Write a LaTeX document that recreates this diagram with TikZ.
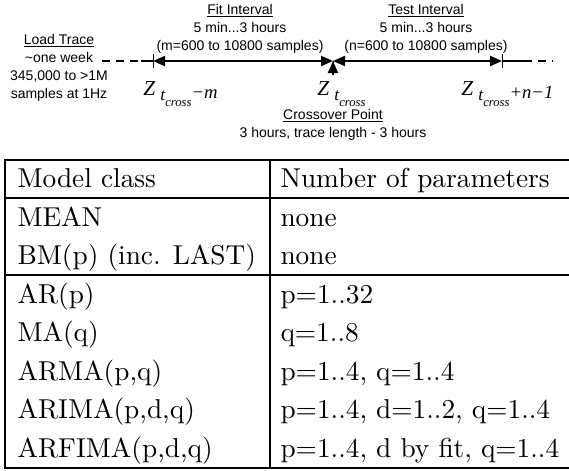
\documentclass[tikz,border=0pt]{standalone}
\usepackage{fontspec}
\usetikzlibrary{arrows.meta}
\newfontfamily\labelfont{Liberation Sans}
\newfontfamily\zfont{Liberation Serif}
% Z with t_cross subscript, #1 is the offset
\newcommand{\zterm}[1]{{\zfont\itshape{\fontsize{16}{17}\selectfont Z}\kern4pt\raisebox{-4pt}{\fontsize{13}{14}\selectfont t}\raisebox{-9pt}{\fontsize{9.5}{10}\selectfont cross}\raisebox{-2.5pt}{\fontsize{14}{15}\selectfont #1}}}
\tikzset{
  label text/.style={font=\labelfont\fontsize{10.5}{13.5}\selectfont,align=center,inner sep=0pt},
  interval/.style={line width=1.5pt,{Triangle[length=9pt,width=7.5pt]}-{Triangle[length=9pt,width=7.5pt]}},
  trace dash/.style={line width=1.5pt,dash pattern=on 6pt off 4.5pt},
  tickmark/.style={line width=0.6pt},
  rule/.style={line width=1.5pt},
  cell/.style={anchor=base west,inner sep=0pt,scale=2.05}
}
\begin{document}
\begin{tikzpicture}[x=0.75pt,y=-0.75pt]
\useasboundingbox (0,0) rectangle (569,471);
% time line
\coordinate (traceL) at (102,61);
\coordinate (dashL) at (141,61);
\coordinate (fitstart) at (153,61);
\coordinate (cross) at (333,61);
\coordinate (crossfoot) at (333,75);
\coordinate (testend) at (502,61);
\coordinate (dashR) at (524,61);
\coordinate (traceR) at (553,61);
\draw[trace dash] (traceL) -- (dashL);
\draw[line width=1.5pt] (dashL) -- (fitstart);
\draw[interval] (fitstart) -- (cross);
\draw[interval] (cross) -- (testend);
\draw[line width=1.5pt] (testend) -- (dashR);
\draw[trace dash] (dashR) -- (traceR);
\draw[line width=1.5pt,-{Triangle[length=9pt,width=7.5pt]}] (crossfoot) -- (cross);
\draw[tickmark] ([yshift=-5.5pt]fitstart) -- ([yshift=5.5pt]fitstart);
\draw[tickmark] ([yshift=-6pt]cross) -- (cross);
\draw[tickmark] ([yshift=-5.5pt]testend) -- ([yshift=5.5pt]testend);
% labels
\node[label text] (load) at (59,68) {\underline{Load Trace}\\\textasciitilde one week\\345,000 to >1M\\samples at 1Hz};
\node[label text] (fit) at (240,28.5) {\underline{Fit Interval}\\5 min...3 hours\\(m=600 to 10800 samples)};
\node[label text] (test) at (426,28.5) {\underline{Test Interval}\\5 min...3 hours\\(n=600 to 10800 samples)};
\node[label text] (crosspoint) at (333,125) {\underline{Crossover Point}\\3 hours, trace length - 3 hours};
\node[anchor=base west,inner sep=0pt] (zfit) at (143,95) {\zterm{−m}};
\node[anchor=base west,inner sep=0pt] (zcross) at (317,95) {\zterm{}};
\node[anchor=base west,inner sep=0pt] (ztest) at (461,95) {\zterm{+n−1}};
% table
\draw[rule] (5,160) -- (569,160);
\draw[rule] (5,198) -- (569,198);
\draw[rule] (5,275) -- (569,275);
\draw[rule] (5,468) -- (569,468);
\draw[rule] (5,159) -- (5,469);
\draw[rule] (270,160) -- (270,468);
\foreach \y/\model/\params [count=\i] in {
  187/{Model class}/{Number of parameters},
  226/{MEAN}/{none},
  264/{BM(p) (inc. LAST)}/{none},
  303/{AR(p)}/{p=1..32},
  341/{MA(q)}/{q=1..8},
  380/{ARMA(p,q)}/{p=1..4, q=1..4},
  418/{ARIMA(p,d,q)}/{p=1..4, d=1..2, q=1..4},
  457/{ARFIMA(p,d,q)}/{p=1..4, d by fit, q=1..4}
}{
  \node[cell] (model\i) at (17,\y) {\model};
  \node[cell] (params\i) at (280,\y) {\params};
}
\end{tikzpicture}
\end{document}
